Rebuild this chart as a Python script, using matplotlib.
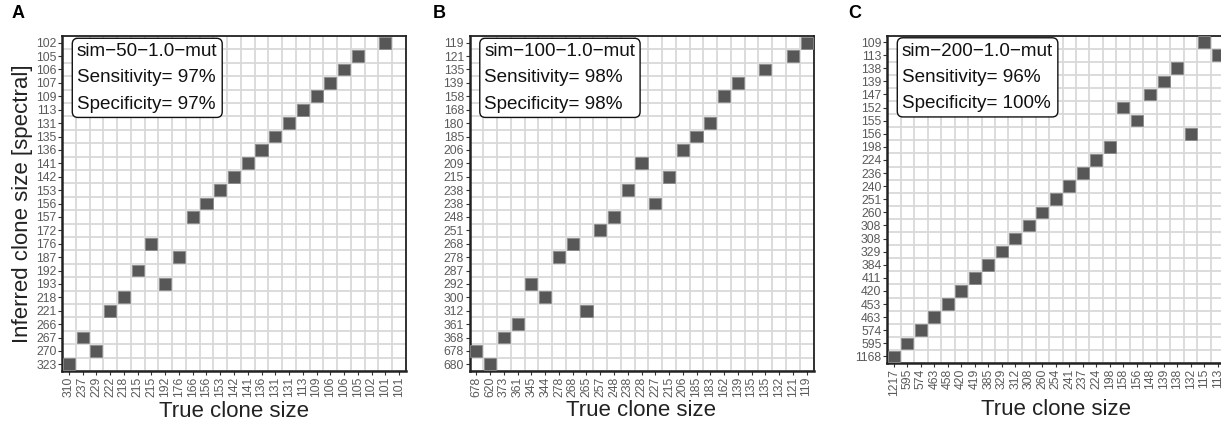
import matplotlib
matplotlib.use("Agg")
import matplotlib.pyplot as plt
from matplotlib.patches import Rectangle
import numpy as np

plt.rcParams['font.family'] = ['Liberation Sans', 'DejaVu Sans']

# panel A: sim-50
a_rows = ['102', '105', '106', '107', '109', '113', '131', '135', '136', '141', '142', '153', '156',
          '157', '172', '176', '187', '192', '193', '218', '221', '266', '267', '270', '323']
a_cols = ['310', '237', '229', '222', '218', '215', '215', '192', '176', '166', '156', '153', '142',
          '141', '136', '131', '131', '113', '109', '106', '106', '105', '102', '101', '101']
a_match = [23, 21, 20, 19, 18, 17, 16, 15, 14, 13, 12, 11, 10, 9, None, 6, 8, 5, 7, 4, 3, None, 1, 2, 0]

# panel B: sim-100
b_rows = ['119', '121', '135', '139', '158', '168', '180', '185', '206', '209', '215', '238', '238',
          '248', '251', '268', '278', '287', '292', '300', '312', '361', '368', '678', '680']
b_cols = ['678', '620', '373', '361', '345', '344', '278', '268', '265', '257', '248', '238', '228',
          '227', '215', '206', '185', '183', '162', '139', '135', '135', '132', '121', '119']
b_match = [24, 23, 21, 19, 18, None, 17, 16, 15, 12, 14, 11, 13, 10, 9, 7, 6, None, 4, 5, 8, 3, 2, 0, 1]

# panel C: sim-200
c_rows = ['109', '113', '138', '139', '147', '152', '155', '156', '198', '224', '236', '240', '251',
          '260', '308', '308', '329', '384', '411', '420', '453', '463', '574', '595', '1168']
c_cols = ['1217', '595', '574', '463', '458', '420', '419', '385', '329', '312', '308', '260', '254',
          '241', '237', '224', '198', '158', '156', '148', '139', '138', '132', '115', '113']
c_match = [23, 24, 21, 20, 19, 17, 18, 22, 16, 15, 14, 13, 12, 11, 10, 9, 8, 7, 6, 5, 4, 3, 2, 1, 0]

panels = [
    ('A', 'sim\u221250\u22121.0\u2212mut', '97%', '97%', a_rows, a_cols, a_match),
    ('B', 'sim\u2212100\u22121.0\u2212mut', '98%', '98%', b_rows, b_cols, b_match),
    ('C', 'sim\u2212200\u22121.0\u2212mut', '96%', '100%', c_rows, c_cols, c_match),
]

W, H = 1221, 422
fig = plt.figure(figsize=(W / 100, H / 100), dpi=100)

# axes boxes in pixels: left, right, top, bottom
boxes = [(62, 406, 36, 371), (469.5, 813.5, 36, 371), (887, 1224.5, 35.5, 363)]
letters_x = [12, 433, 848]

for (letter, name, sens, spec, rows, cols, match), (l, r, t, b), lx in zip(panels, boxes, letters_x):
    ax = fig.add_axes([l / W, 1 - b / H, (r - l) / W, (b - t) / H])
    n_r, n_c = len(rows), len(cols)
    ax.set_xlim(-0.5, n_c - 0.5)
    ax.set_ylim(n_r - 0.5, -0.5)

    ax.set_xticks(np.arange(n_c))
    ax.set_xticklabels(cols, rotation=90)
    ax.set_yticks(np.arange(n_r))
    ax.set_yticklabels(rows)
    ax.set_xticks(np.arange(-0.5, n_c), minor=True)
    ax.set_yticks(np.arange(-0.5, n_r), minor=True)
    ax.grid(which='minor', color='#d9d9d9', lw=1.3)
    ax.grid(which='major', visible=False)
    ax.set_axisbelow(True)
    ax.tick_params(which='minor', length=0)
    ax.tick_params(which='major', length=3, width=0.8, color='#333333',
                   labelsize=8.8, labelcolor='#5a5a5a', pad=1)

    for i, j in enumerate(match):
        if j is None:
            continue
        ax.add_patch(Rectangle((j - 0.44, i - 0.44), 0.88, 0.88,
                               facecolor='#575757', edgecolor='#8a8a8a', lw=0.6, zorder=3))

    for s in ax.spines.values():
        s.set_color('#222222')
        s.set_linewidth(1.3)
    for s in ['left', 'bottom']:
        ax.spines[s].set_linewidth(1.8)

    ax.set_xlabel('True clone size', fontsize=16, color='#222222', labelpad=2.5)
    if letter == 'A':
        ax.set_ylabel('Inferred clone size [spectral]', fontsize=16, color='#222222', labelpad=2)

    txt = f'{name}\nSensitivity= {sens}\nSpecificity= {spec}'
    ax.text(15 / (r - l), 1 - 7 / (b - t), txt, transform=ax.transAxes,
            ha='left', va='top', fontsize=13.6, linespacing=1.72, color='#111111', zorder=5,
            bbox=dict(boxstyle='round,pad=0.25,rounding_size=0.3', facecolor='white',
                      edgecolor='#111111', lw=1.0))

    fig.text(lx / W, 1 - 14 / H, letter, fontsize=13, fontweight='bold', ha='left', va='center')

fig.savefig('out.png', dpi=100)
